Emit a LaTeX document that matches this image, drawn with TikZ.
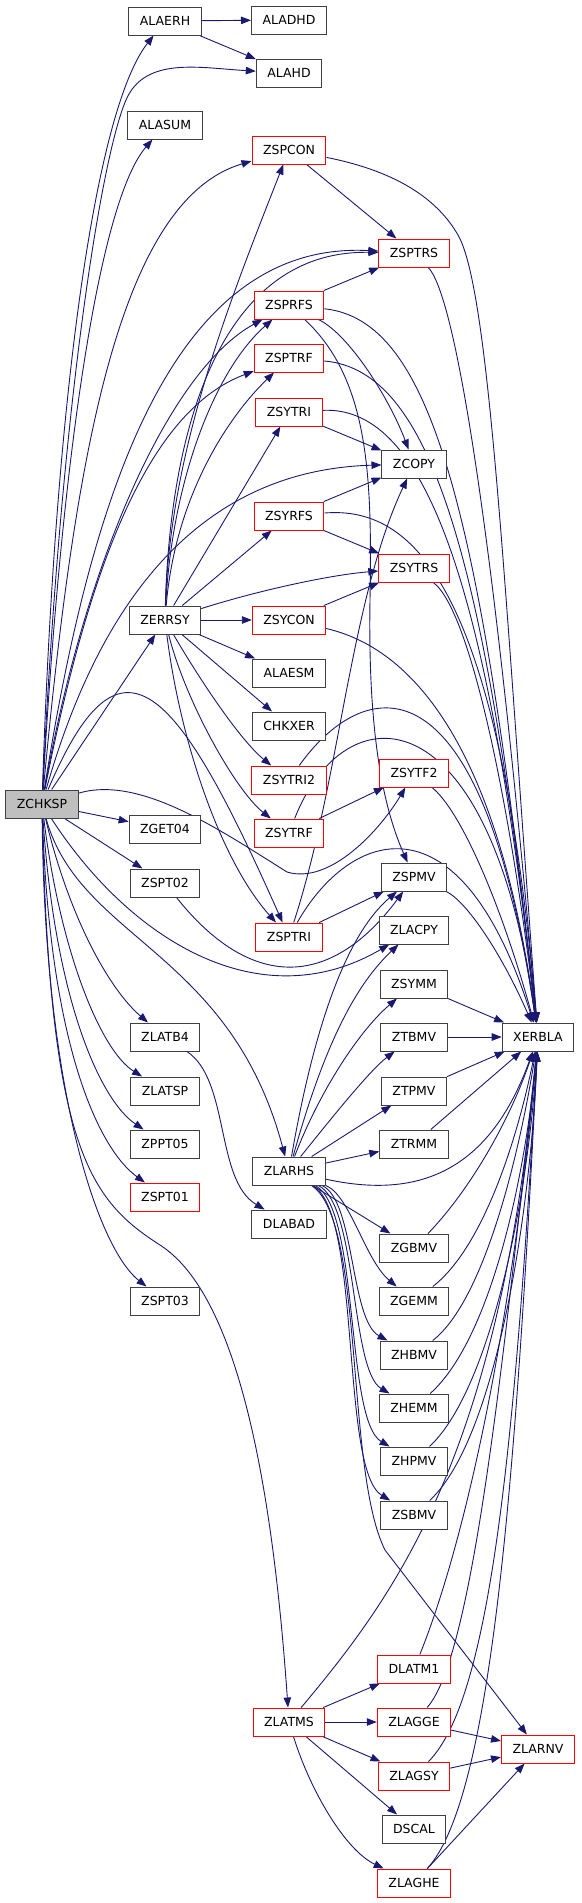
\documentclass[tikz,border=0pt]{standalone}
\usepackage{fontspec}
\setmainfont{DejaVu Sans}
\usetikzlibrary{arrows.meta,backgrounds}
\definecolor{edgeblue}{HTML}{191970}
\definecolor{boxgrey}{HTML}{404040}
\tikzset{
  fn/.style={draw=boxgrey, line width=1pt, fill=white, minimum height=28pt,
    inner xsep=11pt, inner ysep=0pt, font=\fontsize{12.5}{15}\selectfont},
  fnred/.style={fn, draw=red},
  fnroot/.style={fn, fill=black!25},
  call/.style={draw=edgeblue, line width=0.9pt, -{Triangle[length=10pt,width=7.5pt]}}
}
\begin{document}
\begin{tikzpicture}[x=1pt,y=-1pt]
\useasboundingbox (0,0) rectangle (581,1903);
\node[fnroot] (zchksp) at (42,804) {ZCHKSP};
\node[fn] (alaerh) at (165,21) {ALAERH};
\node[fn] (aladhd) at (289,20) {ALADHD};
\node[fn] (alahd) at (289,73) {ALAHD};
\node[fn] (alasum) at (165,125) {ALASUM};
\node[fnred] (zspcon) at (289,150) {ZSPCON};
\node[fnred] (zsptrs) at (414,253) {ZSPTRS};
\node[fnred] (zsprfs) at (289,305) {ZSPRFS};
\node[fnred] (zsptrf) at (289,358) {ZSPTRF};
\node[fnred] (zsytri) at (289,412) {ZSYTRI};
\node[fn] (zcopy) at (414,464) {ZCOPY};
\node[fnred] (zsyrfs) at (289,516) {ZSYRFS};
\node[fnred] (zsytrs) at (414,568) {ZSYTRS};
\node[fn] (zerrsy) at (165,620) {ZERRSY};
\node[fnred] (zsycon) at (289,620) {ZSYCON};
\node[fn] (alaesm) at (289,673) {ALAESM};
\node[fn] (chkxer) at (289,726) {CHKXER};
\node[fnred] (zsytf2) at (414,773) {ZSYTF2};
\node[fnred] (zsytri2) at (289,780) {ZSYTRI2};
\node[fn] (zget04) at (165,829) {ZGET04};
\node[fnred] (zsytrf) at (289,833) {ZSYTRF};
\node[fn] (zspmv) at (414,877) {ZSPMV};
\node[fn] (zspt02) at (165,883) {ZSPT02};
\node[fn] (zlacpy) at (414,930) {ZLACPY};
\node[fnred] (zsptri) at (289,937) {ZSPTRI};
\node[fn] (zsymm) at (414,984) {ZSYMM};
\node[fn] (zlatb4) at (165,1037) {ZLATB4};
\node[fn] (ztbmv) at (414,1037) {ZTBMV};
\node[fn] (xerbla) at (538,1037) {XERBLA};
\node[fn] (zlatsp) at (165,1091) {ZLATSP};
\node[fn] (ztpmv) at (414,1091) {ZTPMV};
\node[fn] (zppt05) at (165,1144) {ZPPT05};
\node[fn] (ztrmm) at (414,1144) {ZTRMM};
\node[fn] (zlarhs) at (289,1171) {ZLARHS};
\node[fnred] (zspt01) at (165,1197) {ZSPT01};
\node[fn] (dlabad) at (289,1224) {DLABAD};
\node[fn] (zgbmv) at (414,1248) {ZGBMV};
\node[fn] (zspt03) at (165,1301) {ZSPT03};
\node[fn] (zgemm) at (414,1301) {ZGEMM};
\node[fn] (zhbmv) at (414,1355) {ZHBMV};
\node[fn] (zhemm) at (414,1408) {ZHEMM};
\node[fn] (zhpmv) at (414,1461) {ZHPMV};
\node[fn] (zsbmv) at (414,1515) {ZSBMV};
\node[fnred] (dlatm1) at (414,1669) {DLATM1};
\node[fnred] (zlatms) at (289,1722) {ZLATMS};
\node[fnred] (zlagge) at (414,1722) {ZLAGGE};
\node[fnred] (zlarnv) at (538,1749) {ZLARNV};
\node[fnred] (zlagsy) at (414,1776) {ZLAGSY};
\node[fn] (dscal) at (414,1829) {DSCAL};
\node[fnred] (zlaghe) at (414,1883) {ZLAGHE};
\begin{scope}[on background layer]
\foreach \a/\b in {alaerh/aladhd, alaerh/alahd, zchksp/zerrsy, zchksp/zget04,
    zchksp/zspt02, zspcon/zsptrs, zsprfs/zsptrs, zsytri/zcopy, zsyrfs/zcopy,
    zsyrfs/zsytrs, zsycon/zsytrs, zerrsy/zsytri, zerrsy/zsyrfs, zerrsy/zsycon,
    zerrsy/alaesm, zerrsy/chkxer, zsytrf/zsytf2,
    zsptri/zspmv, zsymm/xerbla, ztbmv/xerbla, ztpmv/xerbla, ztrmm/xerbla,
    zlarhs/ztpmv, zlarhs/ztrmm, zlarhs/zgbmv, zlatms/dlatm1, zlatms/zlagge,
    zlatms/zlagsy, zlatms/dscal, zlagge/zlarnv, zlagsy/zlarnv, zlaghe/zlarnv}
  \draw[call] (\a) -- (\b);
\draw[call] (zchksp) .. controls (55,400) and (95,110) .. (alaerh);
\draw[call] (zchksp) .. controls (60,420) and (100,160) .. (126,100)
  .. controls (145,56) and (200,68) .. (alahd);
\draw[call] (zchksp) .. controls (62,450) and (100,200) .. (alasum);
\draw[call] (zchksp) .. controls (75,450) and (120,200) .. (zspcon);
\draw[call] (zchksp) .. controls (90,500) and (170,240) .. (zsptrs);
\draw[call] (zchksp) .. controls (85,560) and (170,370) .. (zsprfs);
\draw[call] (zchksp) .. controls (90,560) and (150,410) .. (zsptrf);
\draw[call] (zchksp) .. controls (100,600) and (200,470) .. (zcopy);
\draw[call] (zchksp) .. controls (120,620) and (175,680) .. (zsptri);
\draw[call] (zchksp) .. controls (140,775) and (220,830) .. (287,872)
  .. controls (330,885) and (380,830) .. (zsytf2);
\draw[call] (zchksp) .. controls (130,940) and (260,1020) .. (zlacpy);
\draw[call] (zchksp) .. controls (70,920) and (110,990) .. (zlatb4);
\draw[call] (zchksp) .. controls (60,950) and (100,1050) .. (zlatsp);
\draw[call] (zchksp) .. controls (55,1000) and (100,1100) .. (zppt05);
\draw[call] (zchksp) .. controls (50,1050) and (100,1150) .. (zspt01);
\draw[call] (zchksp) .. controls (45,1100) and (100,1250) .. (zspt03);
\draw[call] (zchksp) .. controls (80,940) and (230,950) .. (zlarhs);
\draw[call] (zchksp) .. controls (50,1150) and (90,1200) .. (160,1245)
  .. controls (230,1290) and (270,1450) .. (zlatms);
\draw[call] (zerrsy) .. controls (170,450) and (230,300) .. (zspcon);
\draw[call] (zerrsy) .. controls (170,430) and (220,250) .. (zsptrs);
\draw[call] (zerrsy) .. controls (172,480) and (215,370) .. (zsprfs);
\draw[call] (zerrsy) .. controls (175,500) and (225,420) .. (zsptrf);
\draw[call] (zerrsy) .. controls (260,590) and (330,575) .. (zsytrs);
\draw[call] (zerrsy) .. controls (200,680) and (240,740) .. (zsytri2);
\draw[call] (zerrsy) .. controls (185,700) and (235,790) .. (zsytrf);
\draw[call] (zerrsy) .. controls (180,740) and (220,860) .. (zsptri);
\draw[call] (zspt02) .. controls (250,990) and (330,990) .. (zspmv);
\draw[call] (zsprfs) .. controls (350,335) and (390,400) .. (zcopy);
\draw[call] (zsprfs) .. controls (370,380) and (372,480) .. (370,600)
  .. controls (368,720) and (380,800) .. (zspmv);
\draw[call] (zsptri) .. controls (340,780) and (350,600) .. (zcopy);
\draw[call] (zspcon) .. controls (390,170) and (435,195) .. (458,235)
  .. controls (490,290) and (505,600) .. (xerbla);
\draw[call] (zsptrs) .. controls (460,300) and (500,600) .. (xerbla);
\draw[call] (zsprfs) .. controls (430,320) and (480,500) .. (xerbla);
\draw[call] (zsptrf) .. controls (430,370) and (485,550) .. (xerbla);
\draw[call] (zsytri) .. controls (430,405) and (490,600) .. (xerbla);
\draw[call] (zsyrfs) .. controls (420,505) and (500,600) .. (xerbla);
\draw[call] (zsytrs) .. controls (470,610) and (510,800) .. (xerbla);
\draw[call] (zsycon) .. controls (420,650) and (500,760) .. (xerbla);
\draw[call] (zsytri2) .. controls (360,680) and (480,640) .. (xerbla);
\draw[call] (zsytrf) .. controls (345,690) and (490,690) .. (xerbla);
\draw[call] (zsytf2) .. controls (460,810) and (500,900) .. (xerbla);
\draw[call] (zsptri) .. controls (350,830) and (460,790) .. (xerbla);
\draw[call] (zspmv) .. controls (465,900) and (500,950) .. (xerbla);
\draw[call] (zlarhs) .. controls (310,1050) and (340,940) .. (zspmv);
\draw[call] (zlarhs) .. controls (320,1060) and (350,990) .. (zlacpy);
\draw[call] (zlarhs) .. controls (320,1090) and (360,1030) .. (zsymm);
\draw[call] (zlarhs) .. controls (330,1120) and (370,1070) .. (ztbmv);
\draw[call] (zlarhs) .. controls (420,1200) and (490,1170) .. (xerbla);
\draw[call] (zlarhs) .. controls (350,1195) and (365,1260) .. (zgemm);
\draw[call] (zlarhs) .. controls (355,1200) and (350,1320) .. (zhbmv);
\draw[call] (zlarhs) .. controls (358,1205) and (350,1370) .. (zhemm);
\draw[call] (zlarhs) .. controls (360,1210) and (345,1420) .. (zhpmv);
\draw[call] (zlarhs) .. controls (362,1215) and (340,1470) .. (zsbmv);
\draw[call] (zlarhs) .. controls (365,1220) and (345,1470) .. (385,1550) -- (zlarnv);
\draw[call] (zlatb4) .. controls (230,1080) and (215,1180) .. (dlabad);
\draw[call] (zgbmv) .. controls (470,1190) and (510,1120) .. (xerbla);
\draw[call] (zgemm) .. controls (480,1250) and (515,1150) .. (xerbla);
\draw[call] (zhbmv) .. controls (485,1300) and (520,1150) .. (xerbla);
\draw[call] (zhemm) .. controls (490,1340) and (525,1180) .. (xerbla);
\draw[call] (zhpmv) .. controls (490,1390) and (528,1200) .. (xerbla);
\draw[call] (zsbmv) .. controls (495,1440) and (530,1220) .. (xerbla);
\draw[call] (dlatm1) .. controls (470,1530) and (515,1300) .. (xerbla);
\draw[call] (zlatms) .. controls (400,1590) and (500,1450) .. (xerbla);
\draw[call] (zlagge) .. controls (470,1660) and (500,1400) .. (xerbla);
\draw[call] (zlagsy) .. controls (490,1700) and (515,1450) .. (xerbla);
\draw[call] (zlaghe) .. controls (490,1800) and (515,1500) .. (xerbla);
\draw[call] (zlatms) .. controls (310,1790) and (345,1850) .. (zlaghe);
\end{scope}
\end{tikzpicture}
\end{document}
